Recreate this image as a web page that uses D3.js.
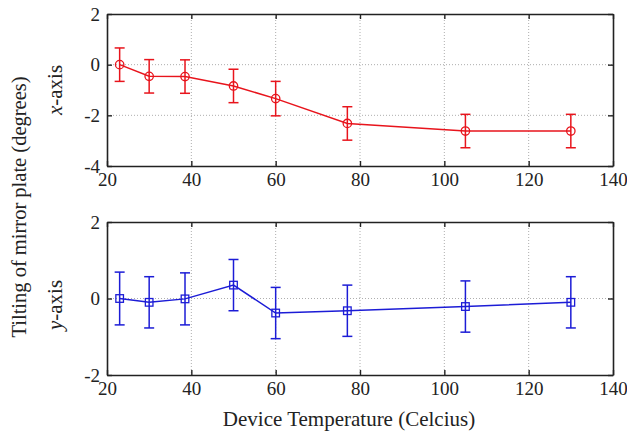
<!DOCTYPE html>
<html>
<head>
<meta charset="utf-8">
<script src="https://cdn.jsdelivr.net/npm/d3@7"></script>
<style>
  body { margin: 0; background: #fff; }
  svg { display: block; }
  svg text { font-family: "Liberation Serif", "Times New Roman", "DejaVu Serif", serif; }
</style>
</head>
<body>
<div id="chart"></div>
<script>
// Temperatures (Celcius) where tilt was measured
const temps = [23, 30, 38.5, 50, 60, 77, 105, 130];

// x-axis tilt (degrees) and error
const tiltX = [0, -0.46, -0.47, -0.84, -1.34, -2.32, -2.62, -2.62];
const errX = [0.66, 0.66, 0.66, 0.66, 0.68, 0.66, 0.66, 0.66];

// y-axis tilt (degrees) and error
const tiltY = [0, -0.1, -0.01, 0.35, -0.38, -0.32, -0.21, -0.1];
const errY = [0.69, 0.67, 0.68, 0.67, 0.67, 0.67, 0.67, 0.67];

const xTicks = [20, 40, 60, 80, 100, 120, 140];
const yTicksTop = [-4, -2, 0, 2];
const yTicksBottom = [-2, 0, 2];

const W = 627, H = 433;
const left = 107, right = 613;

const svg = d3.select("#chart").append("svg")
  .attr("width", W).attr("height", H);

const x = d3.scaleLinear().domain([20, 140]).range([left, right]);

function panel(top, bottom, domain, yTicks, vals, errs, color, marker, label, labelY) {
  const y = d3.scaleLinear().domain(domain).range([bottom, top]);
  const g = svg.append("g");

  // grid lines, dotted
  g.selectAll(".vgrid").data(xTicks.slice(1, -1)).enter().append("line")
    .attr("x1", d => x(d)).attr("x2", d => x(d))
    .attr("y1", top).attr("y2", bottom)
    .attr("stroke", "#999").attr("stroke-width", 0.8)
    .attr("stroke-dasharray", "1,2");
  g.selectAll(".hgrid").data(yTicks.slice(1, -1)).enter().append("line")
    .attr("x1", left).attr("x2", right)
    .attr("y1", d => y(d)).attr("y2", d => y(d))
    .attr("stroke", "#999").attr("stroke-width", 0.8)
    .attr("stroke-dasharray", "1,2");

  // axes with inward ticks on all four sides
  const ax = (a) => a.tickSizeInner(-5).tickSizeOuter(0).tickPadding(7);
  const bottomAx = g.append("g").attr("transform", `translate(0,${bottom})`)
    .call(ax(d3.axisBottom(x).tickValues(xTicks).tickFormat(d => String(d))));
  const topAx = g.append("g").attr("transform", `translate(0,${top})`)
    .call(ax(d3.axisTop(x).tickValues(xTicks)).tickFormat(""));
  const leftAx = g.append("g").attr("transform", `translate(${left},0)`)
    .call(ax(d3.axisLeft(y).tickValues(yTicks).tickFormat(d => String(d))));
  const rightAx = g.append("g").attr("transform", `translate(${right},0)`)
    .call(ax(d3.axisRight(y).tickValues(yTicks)).tickFormat(""));
  [bottomAx, topAx, leftAx, rightAx].forEach(a => {
    a.attr("font-family", null);
    a.select(".domain").attr("stroke", "#222").attr("stroke-width", 1.6);
    a.selectAll(".tick line").attr("stroke", "#222").attr("stroke-width", 1.4);
    a.selectAll("text").style("font-size", "19px").attr("fill", "#222");
  });

  const data = temps.map((t, i) => ({ t, v: vals[i], e: errs[i] }));

  // line
  g.append("path").datum(data)
    .attr("fill", "none").attr("stroke", color).attr("stroke-width", 1.5)
    .attr("d", d3.line().x(d => x(d.t)).y(d => y(d.v)));

  // error bars
  const eb = g.selectAll(".eb").data(data).enter().append("g")
    .attr("stroke", color).attr("stroke-width", 1.5);
  eb.append("line")
    .attr("x1", d => x(d.t)).attr("x2", d => x(d.t))
    .attr("y1", d => y(d.v - d.e)).attr("y2", d => y(d.v + d.e));
  [1, -1].forEach(s => {
    eb.append("line")
      .attr("x1", d => x(d.t) - 5).attr("x2", d => x(d.t) + 5)
      .attr("y1", d => y(d.v + s * d.e)).attr("y2", d => y(d.v + s * d.e));
  });

  // markers
  if (marker === "circle") {
    g.selectAll(".m").data(data).enter().append("circle")
      .attr("cx", d => x(d.t)).attr("cy", d => y(d.v)).attr("r", 4.2)
      .attr("fill", "none").attr("stroke", color).attr("stroke-width", 1.3);
  } else {
    g.selectAll(".m").data(data).enter().append("rect")
      .attr("x", d => x(d.t) - 3.8).attr("y", d => y(d.v) - 3.8)
      .attr("width", 7.6).attr("height", 7.6)
      .attr("fill", "none").attr("stroke", color).attr("stroke-width", 1.3);
  }

  // panel label, italic letter + "-axis"
  const lab = svg.append("text")
    .attr("transform", `translate(62,${labelY}) rotate(-90)`)
    .attr("text-anchor", "middle")
    .style("font-size", "21px").attr("fill", "#222");
  lab.append("tspan").style("font-style", "italic").text(label);
  lab.append("tspan").text("-axis");
}

panel(14, 166, [-4, 2], yTicksTop, tiltX, errX, "#e8141c", "circle", "x", 90);
panel(222, 375, [-2, 2], yTicksBottom, tiltY, errY, "#1c1cd6", "square", "y", 305);

// shared y label
svg.append("text")
  .attr("transform", "translate(26,207) rotate(-90)")
  .attr("text-anchor", "middle")
  .style("font-size", "20.5px").attr("fill", "#222")
  .text("Tilting of mirror plate (degrees)");

// x label
svg.append("text")
  .attr("x", 349).attr("y", 426)
  .attr("text-anchor", "middle")
  .style("font-size", "21px").attr("fill", "#222")
  .text("Device Temperature (Celcius)");
</script>
</body>
</html>
